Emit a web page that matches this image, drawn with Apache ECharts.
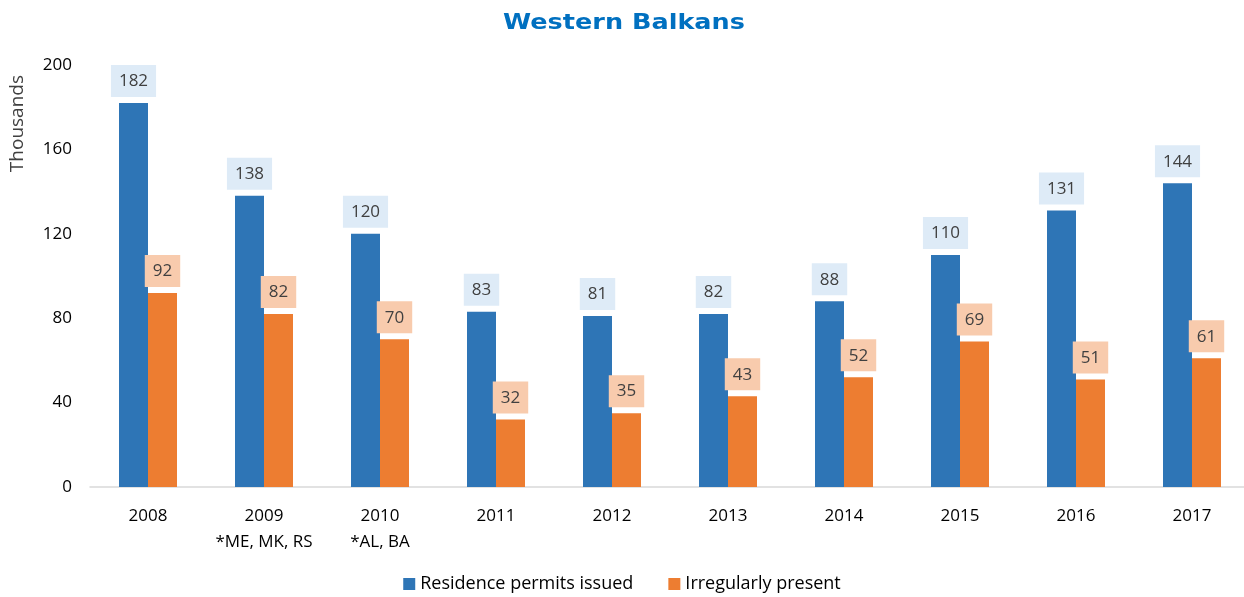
<!DOCTYPE html>
<html>
<head>
<meta charset="utf-8">
<script src="https://cdn.jsdelivr.net/npm/echarts@6/dist/echarts.min.js"></script>
<style>html,body{margin:0;padding:0;background:#fff}#c{width:1244px;height:597px}</style>
</head>
<body>
<div id="c"></div>
<script>
const categories = ['2008', '2009\n*ME, MK, RS', '2010\n*AL, BA', '2011', '2012', '2013', '2014', '2015', '2016', '2017'];
const residencePermits = [182, 138, 120, 83, 81, 82, 88, 110, 131, 144];
const irregularlyPresent = [92, 82, 70, 32, 35, 43, 52, 69, 51, 61];
const yTicks = [0, 40, 80, 120, 160, 200];

const FONT = '"Open Sans", sans-serif';
const chart = echarts.init(document.getElementById('c'));
chart.setOption({
  animation: false,
  graphic: [{
    type: 'text', x: 624, y: 23, scaleX: 1.16,
    style: {
      text: 'Western Balkans', font: 'bold 22px "DejaVu Sans", sans-serif', fill: '#0070C0',
      align: 'center', verticalAlign: 'middle'
    }
  }, {
    type: 'text', left: 8, top: 75, rotation: Math.PI / 2,
    style: { text: 'Thousands', font: '19px ' + FONT, fill: '#404040' }
  }],
  legend: {
    bottom: -1, left: 'center', itemWidth: 12, itemHeight: 12, itemGap: 35,
    icon: 'rect',
    textStyle: { fontFamily: FONT, fontSize: 18, color: '#000' },
    data: ['Residence permits issued', 'Irregularly present']
  },
  grid: { left: 90, top: 65, right: -6, bottom: 110, outerBoundsMode: 'none' },
  xAxis: {
    type: 'category', data: categories,
    axisLine: { lineStyle: { color: '#D9D9D9', width: 1.5 } },
    axisTick: { show: false },
    axisLabel: { interval: 0, fontFamily: FONT, fontSize: 17, color: '#000', margin: 16, lineHeight: 26 }
  },
  yAxis: {
    type: 'value', min: yTicks[0], max: yTicks[yTicks.length - 1], interval: 40,
    splitLine: { show: false },
    axisLine: { show: false }, axisTick: { show: false },
    axisLabel: { fontFamily: FONT, fontSize: 17, color: '#000', margin: 18 }
  },
  series: [{
    name: 'Residence permits issued', type: 'bar', data: residencePermits,
    barWidth: 29, barGap: '0%',
    itemStyle: { color: '#2E75B6' },
    label: {
      show: true, position: 'top', distance: 6,
      fontFamily: FONT, fontSize: 17, color: '#404040',
      backgroundColor: '#DEEBF7', padding: [8, 8, 7, 8]
    }
  }, {
    name: 'Irregularly present', type: 'bar', data: irregularlyPresent,
    barWidth: 29,
    itemStyle: { color: '#ED7D31' },
    label: {
      show: true, position: 'top', distance: 6,
      fontFamily: FONT, fontSize: 17, color: '#404040',
      backgroundColor: '#F8CBAD', padding: [8, 8, 7, 8]
    }
  }]
});
</script>
</body>
</html>
